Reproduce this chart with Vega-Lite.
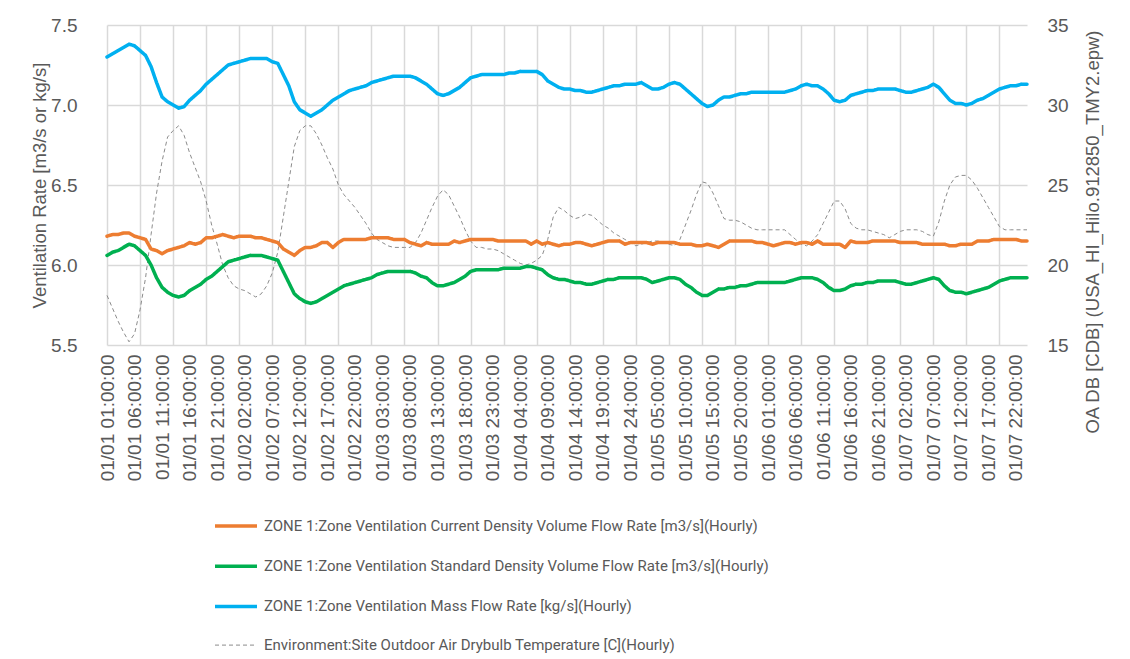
{
  "$schema": "https://vega.github.io/schema/vega-lite/v6.json",
  "width": 920,
  "height": 320,
  "autosize": {"type": "none"},
  "padding": {"left": 107, "top": 25, "right": 103, "bottom": 314},
  "background": "white",
  "config": {
    "view": {"stroke": null},
    "axis": {
      "labelFont": "Liberation Sans",
      "labelColor": "#595959",
      "titleFont": "Liberation Sans",
      "titleColor": "#595959",
      "titleFontWeight": "normal",
      "gridColor": "#d9d9d9",
      "gridWidth": 1.5,
      "domain": false,
      "ticks": false
    },
    "legend": {
      "orient": "none",
      "legendX": 106,
      "legendY": 478,
      "direction": "vertical",
      "labelFont": "Roboto",
      "labelFontSize": 15,
      "labelColor": "#595959",
      "labelLimit": 800,
      "symbolType": "stroke",
      "symbolSize": 1764,
      "rowPadding": 9.2,
      "labelOffset": 5
    }
  },
  "data": {
    "values": [
      {"t": "01/01 01:00:00", "c": 6.18, "s": 6.06, "m": 7.30, "o": 18.1},
      {"t": "01/01 02:00:00", "c": 6.19, "s": 6.08, "m": 7.32, "o": 17.3},
      {"t": "01/01 03:00:00", "c": 6.19, "s": 6.09, "m": 7.34, "o": 16.5},
      {"t": "01/01 04:00:00", "c": 6.20, "s": 6.11, "m": 7.36, "o": 15.8},
      {"t": "01/01 05:00:00", "c": 6.20, "s": 6.13, "m": 7.38, "o": 15.2},
      {"t": "01/01 06:00:00", "c": 6.18, "s": 6.12, "m": 7.37, "o": 15.7},
      {"t": "01/01 07:00:00", "c": 6.17, "s": 6.09, "m": 7.34, "o": 17.2},
      {"t": "01/01 08:00:00", "c": 6.16, "s": 6.06, "m": 7.31, "o": 19.2},
      {"t": "01/01 09:00:00", "c": 6.10, "s": 6.00, "m": 7.24, "o": 21.9},
      {"t": "01/01 10:00:00", "c": 6.09, "s": 5.92, "m": 7.14, "o": 24.5},
      {"t": "01/01 11:00:00", "c": 6.07, "s": 5.86, "m": 7.05, "o": 26.5},
      {"t": "01/01 12:00:00", "c": 6.09, "s": 5.83, "m": 7.02, "o": 28.0},
      {"t": "01/01 13:00:00", "c": 6.10, "s": 5.81, "m": 7.00, "o": 28.4},
      {"t": "01/01 14:00:00", "c": 6.11, "s": 5.80, "m": 6.98, "o": 28.7},
      {"t": "01/01 15:00:00", "c": 6.12, "s": 5.81, "m": 6.99, "o": 28.1},
      {"t": "01/01 16:00:00", "c": 6.14, "s": 5.84, "m": 7.03, "o": 27.0},
      {"t": "01/01 17:00:00", "c": 6.13, "s": 5.86, "m": 7.06, "o": 26.1},
      {"t": "01/01 18:00:00", "c": 6.14, "s": 5.88, "m": 7.09, "o": 25.2},
      {"t": "01/01 19:00:00", "c": 6.17, "s": 5.91, "m": 7.13, "o": 24.0},
      {"t": "01/01 20:00:00", "c": 6.17, "s": 5.93, "m": 7.16, "o": 22.5},
      {"t": "01/01 21:00:00", "c": 6.18, "s": 5.96, "m": 7.19, "o": 21.3},
      {"t": "01/01 22:00:00", "c": 6.19, "s": 5.99, "m": 7.22, "o": 20.0},
      {"t": "01/01 23:00:00", "c": 6.18, "s": 6.02, "m": 7.25, "o": 19.2},
      {"t": "01/01 24:00:00", "c": 6.17, "s": 6.03, "m": 7.26, "o": 18.7},
      {"t": "01/02 01:00:00", "c": 6.18, "s": 6.04, "m": 7.27, "o": 18.5},
      {"t": "01/02 02:00:00", "c": 6.18, "s": 6.05, "m": 7.28, "o": 18.4},
      {"t": "01/02 03:00:00", "c": 6.18, "s": 6.06, "m": 7.29, "o": 18.2},
      {"t": "01/02 04:00:00", "c": 6.17, "s": 6.06, "m": 7.29, "o": 18.0},
      {"t": "01/02 05:00:00", "c": 6.17, "s": 6.06, "m": 7.29, "o": 18.2},
      {"t": "01/02 06:00:00", "c": 6.16, "s": 6.05, "m": 7.29, "o": 18.7},
      {"t": "01/02 07:00:00", "c": 6.15, "s": 6.04, "m": 7.27, "o": 19.5},
      {"t": "01/02 08:00:00", "c": 6.14, "s": 6.03, "m": 7.26, "o": 20.8},
      {"t": "01/02 09:00:00", "c": 6.10, "s": 5.96, "m": 7.19, "o": 23.0},
      {"t": "01/02 10:00:00", "c": 6.08, "s": 5.89, "m": 7.12, "o": 25.2},
      {"t": "01/02 11:00:00", "c": 6.06, "s": 5.82, "m": 7.02, "o": 27.4},
      {"t": "01/02 12:00:00", "c": 6.09, "s": 5.79, "m": 6.97, "o": 28.4},
      {"t": "01/02 13:00:00", "c": 6.11, "s": 5.77, "m": 6.95, "o": 28.7},
      {"t": "01/02 14:00:00", "c": 6.11, "s": 5.76, "m": 6.93, "o": 28.7},
      {"t": "01/02 15:00:00", "c": 6.12, "s": 5.77, "m": 6.95, "o": 28.2},
      {"t": "01/02 16:00:00", "c": 6.14, "s": 5.79, "m": 6.97, "o": 27.5},
      {"t": "01/02 17:00:00", "c": 6.14, "s": 5.81, "m": 7.00, "o": 26.7},
      {"t": "01/02 18:00:00", "c": 6.11, "s": 5.83, "m": 7.03, "o": 26.0},
      {"t": "01/02 19:00:00", "c": 6.14, "s": 5.85, "m": 7.05, "o": 25.0},
      {"t": "01/02 20:00:00", "c": 6.16, "s": 5.87, "m": 7.07, "o": 24.4},
      {"t": "01/02 21:00:00", "c": 6.16, "s": 5.88, "m": 7.09, "o": 24.0},
      {"t": "01/02 22:00:00", "c": 6.16, "s": 5.89, "m": 7.10, "o": 23.6},
      {"t": "01/02 23:00:00", "c": 6.16, "s": 5.90, "m": 7.11, "o": 23.1},
      {"t": "01/02 24:00:00", "c": 6.16, "s": 5.91, "m": 7.12, "o": 22.6},
      {"t": "01/03 01:00:00", "c": 6.17, "s": 5.92, "m": 7.14, "o": 22.0},
      {"t": "01/03 02:00:00", "c": 6.17, "s": 5.94, "m": 7.15, "o": 21.6},
      {"t": "01/03 03:00:00", "c": 6.17, "s": 5.95, "m": 7.16, "o": 21.4},
      {"t": "01/03 04:00:00", "c": 6.17, "s": 5.96, "m": 7.17, "o": 21.2},
      {"t": "01/03 05:00:00", "c": 6.16, "s": 5.96, "m": 7.18, "o": 21.1},
      {"t": "01/03 06:00:00", "c": 6.16, "s": 5.96, "m": 7.18, "o": 21.1},
      {"t": "01/03 07:00:00", "c": 6.16, "s": 5.96, "m": 7.18, "o": 21.1},
      {"t": "01/03 08:00:00", "c": 6.14, "s": 5.96, "m": 7.18, "o": 21.1},
      {"t": "01/03 09:00:00", "c": 6.13, "s": 5.95, "m": 7.17, "o": 21.4},
      {"t": "01/03 10:00:00", "c": 6.12, "s": 5.93, "m": 7.15, "o": 22.0},
      {"t": "01/03 11:00:00", "c": 6.14, "s": 5.92, "m": 7.13, "o": 22.8},
      {"t": "01/03 12:00:00", "c": 6.13, "s": 5.89, "m": 7.10, "o": 23.6},
      {"t": "01/03 13:00:00", "c": 6.13, "s": 5.87, "m": 7.07, "o": 24.3},
      {"t": "01/03 14:00:00", "c": 6.13, "s": 5.87, "m": 7.06, "o": 24.7},
      {"t": "01/03 15:00:00", "c": 6.13, "s": 5.88, "m": 7.07, "o": 24.4},
      {"t": "01/03 16:00:00", "c": 6.15, "s": 5.89, "m": 7.09, "o": 23.7},
      {"t": "01/03 17:00:00", "c": 6.14, "s": 5.91, "m": 7.11, "o": 23.0},
      {"t": "01/03 18:00:00", "c": 6.15, "s": 5.93, "m": 7.14, "o": 22.2},
      {"t": "01/03 19:00:00", "c": 6.16, "s": 5.96, "m": 7.17, "o": 21.5},
      {"t": "01/03 20:00:00", "c": 6.16, "s": 5.97, "m": 7.18, "o": 21.1},
      {"t": "01/03 21:00:00", "c": 6.16, "s": 5.97, "m": 7.19, "o": 21.1},
      {"t": "01/03 22:00:00", "c": 6.16, "s": 5.97, "m": 7.19, "o": 21.0},
      {"t": "01/03 23:00:00", "c": 6.16, "s": 5.97, "m": 7.19, "o": 21.0},
      {"t": "01/03 24:00:00", "c": 6.15, "s": 5.97, "m": 7.19, "o": 20.9},
      {"t": "01/04 01:00:00", "c": 6.15, "s": 5.98, "m": 7.19, "o": 20.7},
      {"t": "01/04 02:00:00", "c": 6.15, "s": 5.98, "m": 7.20, "o": 20.5},
      {"t": "01/04 03:00:00", "c": 6.15, "s": 5.98, "m": 7.20, "o": 20.3},
      {"t": "01/04 04:00:00", "c": 6.15, "s": 5.98, "m": 7.21, "o": 20.1},
      {"t": "01/04 05:00:00", "c": 6.15, "s": 5.99, "m": 7.21, "o": 20.0},
      {"t": "01/04 06:00:00", "c": 6.13, "s": 5.99, "m": 7.21, "o": 20.1},
      {"t": "01/04 07:00:00", "c": 6.15, "s": 5.98, "m": 7.21, "o": 20.3},
      {"t": "01/04 08:00:00", "c": 6.13, "s": 5.97, "m": 7.19, "o": 20.6},
      {"t": "01/04 09:00:00", "c": 6.14, "s": 5.94, "m": 7.15, "o": 21.6},
      {"t": "01/04 10:00:00", "c": 6.13, "s": 5.92, "m": 7.13, "o": 23.0},
      {"t": "01/04 11:00:00", "c": 6.12, "s": 5.91, "m": 7.11, "o": 23.6},
      {"t": "01/04 12:00:00", "c": 6.13, "s": 5.91, "m": 7.10, "o": 23.4},
      {"t": "01/04 13:00:00", "c": 6.13, "s": 5.90, "m": 7.10, "o": 23.1},
      {"t": "01/04 14:00:00", "c": 6.14, "s": 5.89, "m": 7.09, "o": 22.9},
      {"t": "01/04 15:00:00", "c": 6.14, "s": 5.89, "m": 7.09, "o": 23.0},
      {"t": "01/04 16:00:00", "c": 6.13, "s": 5.88, "m": 7.08, "o": 23.2},
      {"t": "01/04 17:00:00", "c": 6.12, "s": 5.88, "m": 7.08, "o": 23.1},
      {"t": "01/04 18:00:00", "c": 6.13, "s": 5.89, "m": 7.09, "o": 22.8},
      {"t": "01/04 19:00:00", "c": 6.14, "s": 5.90, "m": 7.10, "o": 22.5},
      {"t": "01/04 20:00:00", "c": 6.15, "s": 5.91, "m": 7.11, "o": 22.3},
      {"t": "01/04 21:00:00", "c": 6.15, "s": 5.91, "m": 7.12, "o": 22.0},
      {"t": "01/04 22:00:00", "c": 6.15, "s": 5.92, "m": 7.12, "o": 21.8},
      {"t": "01/04 23:00:00", "c": 6.13, "s": 5.92, "m": 7.13, "o": 21.6},
      {"t": "01/04 24:00:00", "c": 6.14, "s": 5.92, "m": 7.13, "o": 21.4},
      {"t": "01/05 01:00:00", "c": 6.14, "s": 5.92, "m": 7.13, "o": 21.2},
      {"t": "01/05 02:00:00", "c": 6.14, "s": 5.92, "m": 7.14, "o": 21.3},
      {"t": "01/05 03:00:00", "c": 6.14, "s": 5.91, "m": 7.12, "o": 21.4},
      {"t": "01/05 04:00:00", "c": 6.13, "s": 5.89, "m": 7.10, "o": 21.5},
      {"t": "01/05 05:00:00", "c": 6.14, "s": 5.90, "m": 7.10, "o": 21.5},
      {"t": "01/05 06:00:00", "c": 6.14, "s": 5.91, "m": 7.11, "o": 21.4},
      {"t": "01/05 07:00:00", "c": 6.14, "s": 5.92, "m": 7.13, "o": 21.3},
      {"t": "01/05 08:00:00", "c": 6.14, "s": 5.92, "m": 7.14, "o": 21.2},
      {"t": "01/05 09:00:00", "c": 6.13, "s": 5.91, "m": 7.13, "o": 21.6},
      {"t": "01/05 10:00:00", "c": 6.13, "s": 5.88, "m": 7.10, "o": 22.5},
      {"t": "01/05 11:00:00", "c": 6.13, "s": 5.86, "m": 7.07, "o": 23.4},
      {"t": "01/05 12:00:00", "c": 6.12, "s": 5.83, "m": 7.04, "o": 24.4},
      {"t": "01/05 13:00:00", "c": 6.12, "s": 5.81, "m": 7.01, "o": 25.2},
      {"t": "01/05 14:00:00", "c": 6.13, "s": 5.81, "m": 6.99, "o": 25.1},
      {"t": "01/05 15:00:00", "c": 6.12, "s": 5.83, "m": 7.00, "o": 24.5},
      {"t": "01/05 16:00:00", "c": 6.11, "s": 5.85, "m": 7.03, "o": 23.7},
      {"t": "01/05 17:00:00", "c": 6.13, "s": 5.85, "m": 7.05, "o": 22.9},
      {"t": "01/05 18:00:00", "c": 6.15, "s": 5.86, "m": 7.05, "o": 22.8},
      {"t": "01/05 19:00:00", "c": 6.15, "s": 5.86, "m": 7.06, "o": 22.8},
      {"t": "01/05 20:00:00", "c": 6.15, "s": 5.87, "m": 7.07, "o": 22.7},
      {"t": "01/05 21:00:00", "c": 6.15, "s": 5.87, "m": 7.07, "o": 22.5},
      {"t": "01/05 22:00:00", "c": 6.15, "s": 5.88, "m": 7.08, "o": 22.3},
      {"t": "01/05 23:00:00", "c": 6.14, "s": 5.89, "m": 7.08, "o": 22.2},
      {"t": "01/05 24:00:00", "c": 6.14, "s": 5.89, "m": 7.08, "o": 22.2},
      {"t": "01/06 01:00:00", "c": 6.13, "s": 5.89, "m": 7.08, "o": 22.2},
      {"t": "01/06 02:00:00", "c": 6.12, "s": 5.89, "m": 7.08, "o": 22.2},
      {"t": "01/06 03:00:00", "c": 6.13, "s": 5.89, "m": 7.08, "o": 22.2},
      {"t": "01/06 04:00:00", "c": 6.14, "s": 5.89, "m": 7.08, "o": 22.2},
      {"t": "01/06 05:00:00", "c": 6.14, "s": 5.90, "m": 7.09, "o": 21.9},
      {"t": "01/06 06:00:00", "c": 6.13, "s": 5.91, "m": 7.10, "o": 21.6},
      {"t": "01/06 07:00:00", "c": 6.14, "s": 5.92, "m": 7.12, "o": 21.3},
      {"t": "01/06 08:00:00", "c": 6.14, "s": 5.92, "m": 7.13, "o": 21.2},
      {"t": "01/06 09:00:00", "c": 6.13, "s": 5.92, "m": 7.12, "o": 21.5},
      {"t": "01/06 10:00:00", "c": 6.15, "s": 5.91, "m": 7.12, "o": 21.9},
      {"t": "01/06 11:00:00", "c": 6.13, "s": 5.89, "m": 7.10, "o": 22.6},
      {"t": "01/06 12:00:00", "c": 6.13, "s": 5.86, "m": 7.07, "o": 23.3},
      {"t": "01/06 13:00:00", "c": 6.13, "s": 5.84, "m": 7.03, "o": 24.0},
      {"t": "01/06 14:00:00", "c": 6.13, "s": 5.84, "m": 7.02, "o": 24.0},
      {"t": "01/06 15:00:00", "c": 6.11, "s": 5.85, "m": 7.03, "o": 23.5},
      {"t": "01/06 16:00:00", "c": 6.15, "s": 5.87, "m": 7.06, "o": 22.6},
      {"t": "01/06 17:00:00", "c": 6.14, "s": 5.88, "m": 7.07, "o": 22.3},
      {"t": "01/06 18:00:00", "c": 6.14, "s": 5.88, "m": 7.08, "o": 22.2},
      {"t": "01/06 19:00:00", "c": 6.14, "s": 5.89, "m": 7.09, "o": 22.2},
      {"t": "01/06 20:00:00", "c": 6.15, "s": 5.89, "m": 7.09, "o": 22.1},
      {"t": "01/06 21:00:00", "c": 6.15, "s": 5.90, "m": 7.10, "o": 22.0},
      {"t": "01/06 22:00:00", "c": 6.15, "s": 5.90, "m": 7.10, "o": 21.9},
      {"t": "01/06 23:00:00", "c": 6.15, "s": 5.90, "m": 7.10, "o": 21.7},
      {"t": "01/06 24:00:00", "c": 6.15, "s": 5.90, "m": 7.10, "o": 21.9},
      {"t": "01/07 01:00:00", "c": 6.14, "s": 5.89, "m": 7.09, "o": 22.1},
      {"t": "01/07 02:00:00", "c": 6.14, "s": 5.88, "m": 7.08, "o": 22.2},
      {"t": "01/07 03:00:00", "c": 6.14, "s": 5.88, "m": 7.08, "o": 22.2},
      {"t": "01/07 04:00:00", "c": 6.14, "s": 5.89, "m": 7.09, "o": 22.2},
      {"t": "01/07 05:00:00", "c": 6.13, "s": 5.90, "m": 7.10, "o": 22.1},
      {"t": "01/07 06:00:00", "c": 6.13, "s": 5.91, "m": 7.11, "o": 21.9},
      {"t": "01/07 07:00:00", "c": 6.13, "s": 5.92, "m": 7.13, "o": 21.8},
      {"t": "01/07 08:00:00", "c": 6.13, "s": 5.91, "m": 7.11, "o": 22.7},
      {"t": "01/07 09:00:00", "c": 6.13, "s": 5.87, "m": 7.07, "o": 24.0},
      {"t": "01/07 10:00:00", "c": 6.12, "s": 5.84, "m": 7.03, "o": 25.0},
      {"t": "01/07 11:00:00", "c": 6.12, "s": 5.83, "m": 7.01, "o": 25.5},
      {"t": "01/07 12:00:00", "c": 6.13, "s": 5.83, "m": 7.01, "o": 25.6},
      {"t": "01/07 13:00:00", "c": 6.13, "s": 5.82, "m": 7.00, "o": 25.6},
      {"t": "01/07 14:00:00", "c": 6.13, "s": 5.83, "m": 7.01, "o": 25.3},
      {"t": "01/07 15:00:00", "c": 6.15, "s": 5.84, "m": 7.03, "o": 24.8},
      {"t": "01/07 16:00:00", "c": 6.15, "s": 5.85, "m": 7.04, "o": 24.2},
      {"t": "01/07 17:00:00", "c": 6.15, "s": 5.86, "m": 7.06, "o": 23.6},
      {"t": "01/07 18:00:00", "c": 6.16, "s": 5.88, "m": 7.08, "o": 23.0},
      {"t": "01/07 19:00:00", "c": 6.16, "s": 5.90, "m": 7.10, "o": 22.4},
      {"t": "01/07 20:00:00", "c": 6.16, "s": 5.91, "m": 7.11, "o": 22.2},
      {"t": "01/07 21:00:00", "c": 6.16, "s": 5.92, "m": 7.12, "o": 22.2},
      {"t": "01/07 22:00:00", "c": 6.16, "s": 5.92, "m": 7.12, "o": 22.2},
      {"t": "01/07 23:00:00", "c": 6.15, "s": 5.92, "m": 7.13, "o": 22.2},
      {"t": "01/07 24:00:00", "c": 6.15, "s": 5.92, "m": 7.13, "o": 22.2}
    ]
  },
  "layer": [
    {
      "transform": [{"fold": ["o"], "as": ["key", "value"]}],
      "mark": {"type": "line", "strokeJoin": "round"},
      "encoding": {
        "x": {
          "field": "t", "type": "ordinal", "sort": "ascending",
          "scale": {"type": "point", "padding": 0},
          "axis": {
            "title": null, "labels": false, "grid": true, "orient": "top",
            "values": ["01/01 01:00:00","01/01 07:00:00","01/01 13:00:00","01/01 19:00:00","01/02 01:00:00","01/02 07:00:00","01/02 13:00:00","01/02 19:00:00","01/03 01:00:00","01/03 07:00:00","01/03 13:00:00","01/03 19:00:00","01/04 01:00:00","01/04 07:00:00","01/04 13:00:00","01/04 19:00:00","01/05 01:00:00","01/05 07:00:00","01/05 13:00:00","01/05 19:00:00","01/06 01:00:00","01/06 07:00:00","01/06 13:00:00","01/06 19:00:00","01/07 01:00:00","01/07 07:00:00","01/07 13:00:00","01/07 19:00:00"]
          }
        },
        "y": {
          "field": "value", "type": "quantitative",
          "scale": {"domain": [15, 35], "nice": false, "zero": false},
          "axis": {
            "orient": "right", "grid": false, "values": [15, 20, 25, 30, 35],
            "labelFontSize": 19, "labelPadding": 20,
            "title": "OA DB [CDB] (USA_HI_Hilo.912850_TMY2.epw)",
            "titleFontSize": 18.5, "titleAngle": -90, "titleX": 65, "titleY": 5,
            "titleAlign": "right", "titleBaseline": "middle"
          }
        },
        "color": {
          "field": "key", "type": "nominal",
          "scale": {"domain": ["c", "s", "m", "o"], "range": ["#ED7D31", "#00B050", "#00B0F0", "#8c8c8c"]}
        },
        "strokeDash": {
          "field": "key", "type": "nominal",
          "scale": {"domain": ["c", "s", "m", "o"], "range": [[1, 0], [1, 0], [1, 0], [4, 3]]}
        },
        "strokeWidth": {
          "field": "key", "type": "nominal",
          "scale": {"type": "ordinal", "domain": ["c", "s", "m", "o"], "range": [3.5, 3.5, 3.5, 1]}
        }
      }
    },
    {
      "transform": [{"fold": ["c", "s", "m"], "as": ["key", "value"]}],
      "mark": {"type": "line", "strokeJoin": "round", "strokeCap": "round"},
      "encoding": {
        "x": {
          "field": "t", "type": "ordinal", "sort": "ascending",
          "scale": {"type": "point", "padding": 0},
          "axis": {
            "title": null, "grid": false, "orient": "bottom", "labelAngle": -90, "labelFontSize": 19, "labelPadding": 9,
            "values": ["01/01 01:00:00","01/01 06:00:00","01/01 11:00:00","01/01 16:00:00","01/01 21:00:00","01/02 02:00:00","01/02 07:00:00","01/02 12:00:00","01/02 17:00:00","01/02 22:00:00","01/03 03:00:00","01/03 08:00:00","01/03 13:00:00","01/03 18:00:00","01/03 23:00:00","01/04 04:00:00","01/04 09:00:00","01/04 14:00:00","01/04 19:00:00","01/04 24:00:00","01/05 05:00:00","01/05 10:00:00","01/05 15:00:00","01/05 20:00:00","01/06 01:00:00","01/06 06:00:00","01/06 11:00:00","01/06 16:00:00","01/06 21:00:00","01/07 02:00:00","01/07 07:00:00","01/07 12:00:00","01/07 17:00:00","01/07 22:00:00"]
          }
        },
        "y": {
          "field": "value", "type": "quantitative",
          "scale": {"domain": [5.5, 7.5], "nice": false, "zero": false},
          "axis": {
            "orient": "left", "grid": true, "values": [5.5, 6, 6.5, 7, 7.5], "format": ".1f",
            "labelFontSize": 19, "labelPadding": 30,
            "title": "Ventilation Rate [m3/s or kg/s]",
            "titleFontSize": 18.5, "titleX": -68, "titleBaseline": "middle"
          }
        },
        "color": {
          "field": "key", "type": "nominal",
          "scale": {"domain": ["c", "s", "m", "o"], "range": ["#ED7D31", "#00B050", "#00B0F0", "#8c8c8c"]},
          "legend": {
            "title": null,
            "labelExpr": "datum.label == 'c' ? 'ZONE 1:Zone Ventilation Current Density Volume Flow Rate [m3/s](Hourly)' : datum.label == 's' ? 'ZONE 1:Zone Ventilation Standard Density Volume Flow Rate [m3/s](Hourly)' : datum.label == 'm' ? 'ZONE 1:Zone Ventilation Mass Flow Rate [kg/s](Hourly)' : 'Environment:Site Outdoor Air Drybulb Temperature [C](Hourly)'"
          }
        },
        "strokeDash": {
          "field": "key", "type": "nominal",
          "scale": {"domain": ["c", "s", "m", "o"], "range": [[1, 0], [1, 0], [1, 0], [4, 3]]},
          "legend": {"title": null}
        },
        "strokeWidth": {
          "field": "key", "type": "nominal",
          "scale": {"type": "ordinal", "domain": ["c", "s", "m", "o"], "range": [3.5, 3.5, 3.5, 1]},
          "legend": {"title": null}
        }
      }
    }
  ],
  "resolve": {"scale": {"y": "independent"}, "axis": {"x": "independent"}}
}
